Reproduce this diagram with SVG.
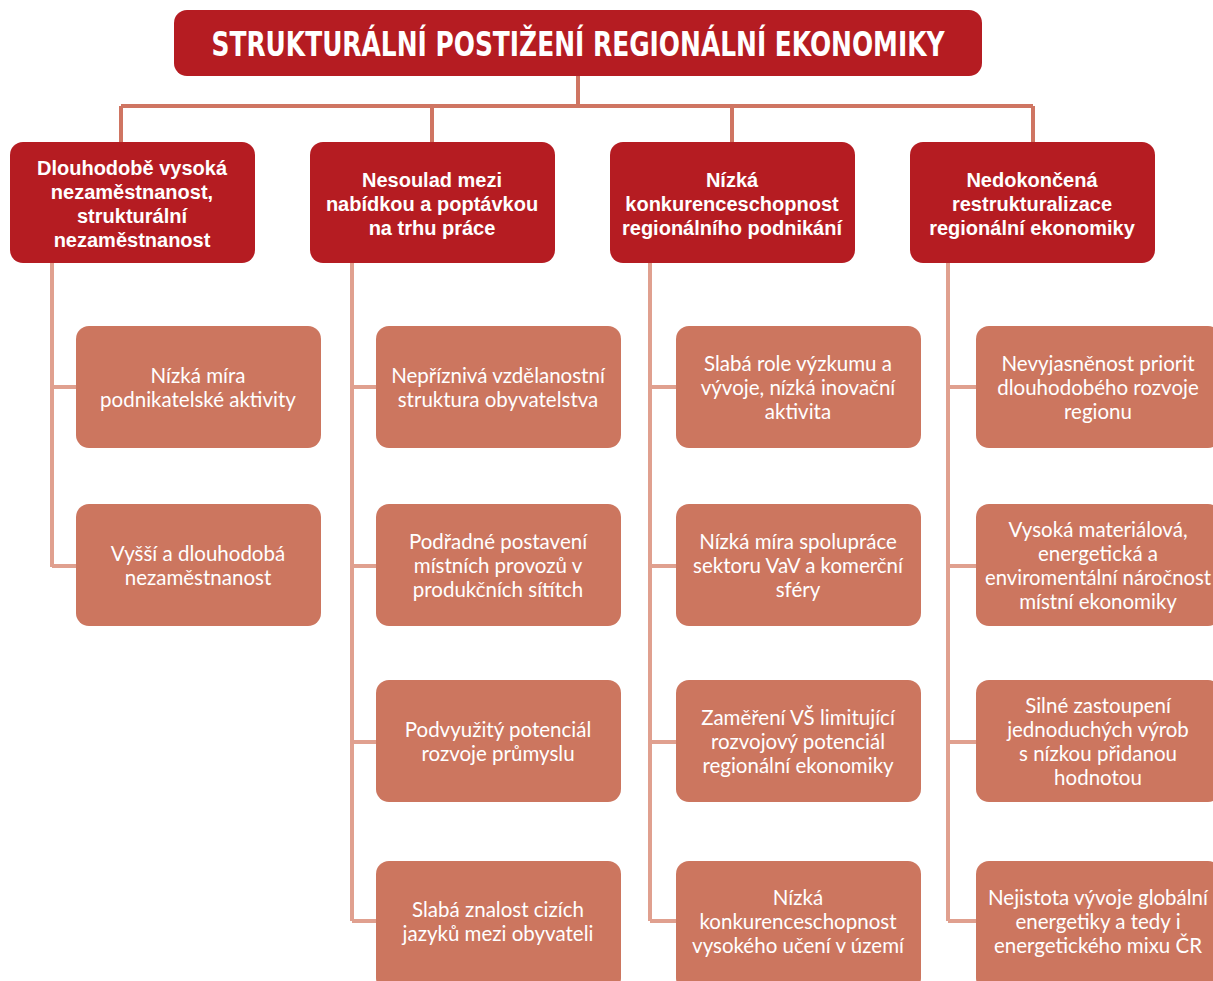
<svg xmlns="http://www.w3.org/2000/svg" width="1213" height="981" viewBox="0 0 1213 981">
<defs>
<style>
.title{fill:#b51c22}
.head{fill:#b51c22}
.leaf{fill:#cc765f}
.tt{font-family:"DejaVu Sans Condensed","Liberation Sans",sans-serif;font-weight:bold;font-size:34px;fill:#fff;text-anchor:middle}
.ht{font-family:"Liberation Sans","DejaVu Sans",sans-serif;font-weight:bold;font-size:20px;fill:#fff;text-anchor:middle}
.lt{font-family:"Lato","Liberation Sans",sans-serif;font-weight:400;font-size:20.5px;fill:#fff;text-anchor:middle}
.c1{stroke:#cf7562;stroke-width:4;fill:none}
.c2{stroke:#e0a08f;stroke-width:4;fill:none}
</style>
</defs>
<rect width="1213" height="981" fill="#fff"/>
<g id="connectors">
<path class="c1" d="M578 76V106M121 106H1033M121 106V142M432 106V142M732 106V142M1033 106V142"/>
<path class="c2" d="M52 263V567M52 387H76M52 566H76"/>
<path class="c2" d="M352 263V921M352 387H376M352 566H376M352 742H376M352 921H376"/>
<path class="c2" d="M650 263V921M650 387H676M650 566H676M650 742H676M650 921H676"/>
<path class="c2" d="M948 263V921M948 387H976M948 566H976M948 742H976M948 921H976"/>
</g>
<g id="title"><rect class="title" x="174" y="10" width="808" height="66" rx="13"/><text class="tt" x="578" y="56" textLength="733" lengthAdjust="spacingAndGlyphs">STRUKTURÁLNÍ POSTIŽENÍ REGIONÁLNÍ EKONOMIKY</text></g>
<g id="h1"><rect class="head" x="10" y="142" width="245" height="121" rx="13"/><text class="ht" x="132"><tspan x="132" y="175">Dlouhodobě vysoká</tspan><tspan x="132" y="199">nezaměstnanost,</tspan><tspan x="132" y="223">strukturální</tspan><tspan x="132" y="247">nezaměstnanost</tspan></text></g>
<g id="h2"><rect class="head" x="310" y="142" width="245" height="121" rx="13"/><text class="ht"><tspan x="432" y="187">Nesoulad mezi</tspan><tspan x="432" y="211">nabídkou a poptávkou</tspan><tspan x="432" y="235">na trhu práce</tspan></text></g>
<g id="h3"><rect class="head" x="610" y="142" width="245" height="121" rx="13"/><text class="ht"><tspan x="732" y="187">Nízká</tspan><tspan x="732" y="211">konkurenceschopnost</tspan><tspan x="732" y="235">regionálního podnikání</tspan></text></g>
<g id="h4"><rect class="head" x="910" y="142" width="245" height="121" rx="13"/><text class="ht"><tspan x="1032" y="187">Nedokončená</tspan><tspan x="1032" y="211">restrukturalizace</tspan><tspan x="1032" y="235">regionální ekonomiky</tspan></text></g>

<g id="l11"><rect class="leaf" x="76" y="326" width="245" height="122" rx="13"/><text class="lt"><tspan x="198" y="383">Nízká míra</tspan><tspan x="198" y="407">podnikatelské aktivity</tspan></text></g>
<g id="l12"><rect class="leaf" x="76" y="504" width="245" height="122" rx="13"/><text class="lt"><tspan x="198" y="561">Vyšší a dlouhodobá</tspan><tspan x="198" y="585">nezaměstnanost</tspan></text></g>

<g id="l21"><rect class="leaf" x="376" y="326" width="245" height="122" rx="13"/><text class="lt"><tspan x="498" y="383">Nepříznivá vzdělanostní</tspan><tspan x="498" y="407">struktura obyvatelstva</tspan></text></g>
<g id="l22"><rect class="leaf" x="376" y="504" width="245" height="122" rx="13"/><text class="lt"><tspan x="498" y="549">Podřadné postavení</tspan><tspan x="498" y="573">místních provozů v</tspan><tspan x="498" y="597">produkčních sítítch</tspan></text></g>
<g id="l23"><rect class="leaf" x="376" y="680" width="245" height="122" rx="13"/><text class="lt"><tspan x="498" y="737">Podvyužitý potenciál</tspan><tspan x="498" y="761">rozvoje průmyslu</tspan></text></g>
<g id="l24"><rect class="leaf" x="376" y="861" width="245" height="130" rx="13"/><text class="lt"><tspan x="498" y="917">Slabá znalost cizích</tspan><tspan x="498" y="941">jazyků mezi obyvateli</tspan></text></g>

<g id="l31"><rect class="leaf" x="676" y="326" width="245" height="122" rx="13"/><text class="lt"><tspan x="798" y="371">Slabá role výzkumu a</tspan><tspan x="798" y="395">vývoje, nízká inovační</tspan><tspan x="798" y="419">aktivita</tspan></text></g>
<g id="l32"><rect class="leaf" x="676" y="504" width="245" height="122" rx="13"/><text class="lt"><tspan x="798" y="549">Nízká míra spolupráce</tspan><tspan x="798" y="573">sektoru VaV a komerční</tspan><tspan x="798" y="597">sféry</tspan></text></g>
<g id="l33"><rect class="leaf" x="676" y="680" width="245" height="122" rx="13"/><text class="lt"><tspan x="798" y="725">Zaměření VŠ limitující</tspan><tspan x="798" y="749">rozvojový potenciál</tspan><tspan x="798" y="773">regionální ekonomiky</tspan></text></g>
<g id="l34"><rect class="leaf" x="676" y="861" width="245" height="130" rx="13"/><text class="lt"><tspan x="798" y="905">Nízká</tspan><tspan x="798" y="929">konkurenceschopnost</tspan><tspan x="798" y="953">vysokého učení v území</tspan></text></g>

<g id="l41"><rect class="leaf" x="976" y="326" width="245" height="122" rx="13"/><text class="lt"><tspan x="1098" y="371">Nevyjasněnost priorit</tspan><tspan x="1098" y="395">dlouhodobého rozvoje</tspan><tspan x="1098" y="419">regionu</tspan></text></g>
<g id="l42"><rect class="leaf" x="976" y="504" width="245" height="122" rx="13"/><text class="lt"><tspan x="1098" y="537">Vysoká materiálová,</tspan><tspan x="1098" y="561">energetická a</tspan><tspan x="1098" y="585" textLength="226" lengthAdjust="spacingAndGlyphs">enviromentální náročnost</tspan><tspan x="1098" y="609">místní ekonomiky</tspan></text></g>
<g id="l43"><rect class="leaf" x="976" y="680" width="245" height="122" rx="13"/><text class="lt"><tspan x="1098" y="713">Silné zastoupení</tspan><tspan x="1098" y="737">jednoduchých výrob</tspan><tspan x="1098" y="761">s nízkou přidanou</tspan><tspan x="1098" y="785">hodnotou</tspan></text></g>
<g id="l44"><rect class="leaf" x="976" y="861" width="245" height="130" rx="13"/><text class="lt"><tspan x="1098" y="905">Nejistota vývoje globální</tspan><tspan x="1098" y="929">energetiky a tedy i</tspan><tspan x="1098" y="953">energetického mixu ČR</tspan></text></g>
</svg>
